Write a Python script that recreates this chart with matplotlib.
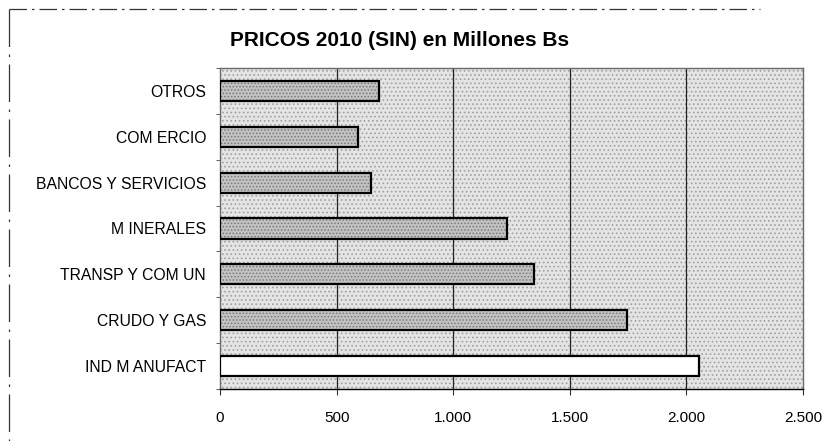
import matplotlib
matplotlib.use("Agg")
import matplotlib.pyplot as plt
from matplotlib.lines import Line2D
import numpy as np

# ---- data ----
categories = ["OTROS", "COM ERCIO", "BANCOS Y SERVICIOS", "M INERALES",
              "TRANSP Y COM UN", "CRUDO Y GAS", "IND M ANUFACT"]
values = [682, 592, 648, 1231, 1346, 1745, 2054]
x_ticks = [0, 500, 1000, 1500, 2000, 2500]
x_tick_labels = ["0", "500", "1.000", "1.500", "2.000", "2.500"]
title = "PRICOS 2010 (SIN) en Millones Bs"

plt.rcParams['font.family'] = ['Liberation Sans', 'DejaVu Sans']
plt.rcParams['hatch.linewidth'] = 0.7

fig = plt.figure(figsize=(8.23, 4.41), dpi=100)
fig.patch.set_facecolor("white")
ax = fig.add_axes([220/823, 52/441, 583/823, 321/441])

# stippled background
ax.set_facecolor("#e4e4e4")
bg = plt.Rectangle((0, 0), 1, 1, transform=ax.transAxes, facecolor="none",
                   edgecolor="#a0a0a0", hatch="....", linewidth=0, zorder=0)
ax.add_patch(bg)

n = len(categories)
ypos = np.arange(n)
colors = ["#c2c2c2"] * (n - 1) + ["white"]
stipple = [True] * (n - 1) + [False]

ax.barh(ypos, values, height=0.44, color=colors, edgecolor="none",
        linewidth=0, zorder=3)
for y, v, s in zip(ypos, values, stipple):
    if s:
        ax.barh(y, v, height=0.44, color="none", edgecolor="#7a7a7a",
                hatch=".....", linewidth=0, zorder=3.5)
ax.barh(ypos, values, height=0.44, color="none", edgecolor="black",
        linewidth=1.6, zorder=4)

ax.set_ylim(n - 0.5, -0.5)
ax.set_xlim(0, 2500)
ax.set_yticks(ypos)
ax.set_yticklabels(categories, fontsize=11.3)
ax.set_yticks(np.arange(n + 1) - 0.5, minor=True)
ax.tick_params(axis="y", which="major", length=0, pad=10)
ax.tick_params(axis="y", which="minor", length=3, color="#444444")
ax.set_xticks(x_ticks)
ax.set_xticklabels(x_tick_labels, fontsize=11)
ax.tick_params(axis="x", length=4, pad=12, color="#333333")

for xv in x_ticks[1:-1]:
    ax.axvline(xv, color="#222222", linewidth=0.9, zorder=1)

for side in ["top", "right", "left"]:
    ax.spines[side].set_color("#6a6a6a")
    ax.spines[side].set_linewidth(1.0)
ax.spines["bottom"].set_color("black")
ax.spines["bottom"].set_linewidth(1.0)

fig.text(400/823, 1 - 41/441, title, ha="center", va="center",
         fontsize=15, fontweight="bold")

# scanned chart border (top & left), dashed
fig.add_artist(Line2D([9/823, 760/823], [1 - 9/441, 1 - 9/441],
                      transform=fig.transFigure, color="#333333",
                      linewidth=0.9, linestyle=(0, (14, 4, 2, 4))))
fig.add_artist(Line2D([9/823, 9/823], [1 - 9/441, 0],
                      transform=fig.transFigure, color="#333333",
                      linewidth=0.9, linestyle=(0, (30, 6, 2, 6))))

fig.savefig("out.png", dpi=100)
